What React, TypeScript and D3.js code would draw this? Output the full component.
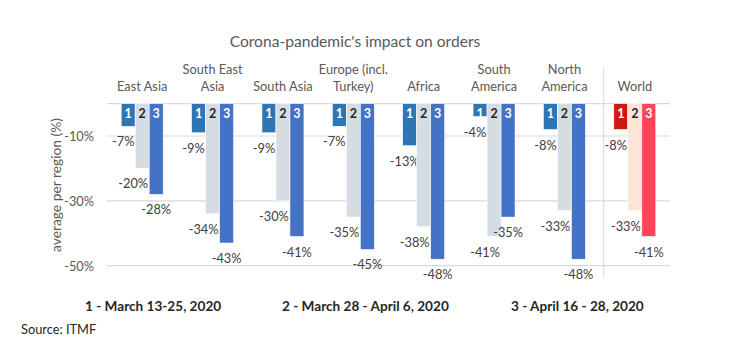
import React from "react";
import * as d3 from "d3";

const regions = ["East Asia", "South East Asia", "South Asia", "Europe (incl. Turkey)", "Africa", "South America", "North America", "World"];
const regionLines = [["East Asia"], ["South East", "Asia"], ["South Asia"], ["Europe (incl.", "Turkey)"], ["Africa"], ["South", "America"], ["North", "America"], ["World"]];
const survey1 = [-7, -9, -9, -7, -13, -4, -8, -8];
const survey2 = [-20, -34, -30, -35, -38, -41, -33, -33];
const survey3 = [-28, -43, -41, -45, -48, -35, -48, -41];
const surveyKeys = ["1", "2", "3"];
const yTicks = [-10, -30, -50];
const legendLabels = ["1 - March 13-25, 2020", "2 - March 28 - April 6, 2020", "3 - April 16 - 28, 2020"];

const W = 746, H = 346;
const FONT = "Lato, 'Open Sans', sans-serif";

export default function App() {
  const x = d3.scaleBand<string>().domain(regions).range([107, 670]).paddingInner(0).paddingOuter(0);
  const bw = 14;
  const sub = d3.scaleBand<string>().domain(surveyKeys).range([0, bw * 3]);
  const y = d3.scaleLinear().domain([0, -50]).range([103.6, 265.7]);
  const series = [survey1, survey2, survey3];
  const blue = ["#2E75B6", "#D6DCE4", "#4472C4"];
  const red = ["#CC1A0E", "#FBE5D6", "#FF4557"];
  const numColor = ["#ffffff", "#262626", "#ffffff"];
  const labelShift = [-5, -9, 0];
  const gridLines = [0, ...yTicks];
  const sepX = (x("World") as number) + 4;

  return (
    <div style={{ position: "absolute", left: 0, top: 0 }}>
      <svg width={W} height={H} style={{ display: "block", background: "#fff" }} fontFamily={FONT}>
        <text x={355} y={41} textAnchor="middle" dominantBaseline="central" fontSize={15.6} fill="#595959">
          Corona-pandemic's impact on orders
        </text>
        {gridLines.map((t) => (
          <line key={t} x1={107} x2={670} y1={y(t)} y2={y(t)} stroke="#D9D9D9" strokeWidth={1.2} />
        ))}
        {yTicks.map((t) => (
          <text key={t} x={94} y={y(t)} textAnchor="end" dominantBaseline="central" fontSize={12.8} fill="#595959">
            {`${t}%`}
          </text>
        ))}
        <text transform={`translate(55,185) rotate(-90)`} textAnchor="middle" dominantBaseline="central" fontSize={13.8} fill="#595959">
          average per region (%)
        </text>
        <line x1={sepX} x2={sepX} y1={67} y2={278} stroke="#D9D9D9" strokeWidth={1} />
        {regions.map((r, i) => {
          const gx = (x(r) as number) + (x.bandwidth() - bw * 3) / 2;
          const lines = regionLines[i];
          const cx = (x(r) as number) + x.bandwidth() / 2;
          const colors = r === "World" ? red : blue;
          return (
            <g key={r}>
              {lines.map((ln, j) => (
                <text key={j} x={cx} y={86 - (lines.length - 1 - j) * 16.7} textAnchor="middle" dominantBaseline="central" fontSize={12.8} fill="#595959">
                  {ln}
                </text>
              ))}
              {surveyKeys.map((k, s) => {
                const v = series[s][i];
                const bx = gx + (sub(k) as number);
                const y0 = y(0);
                const y1 = y(v);
                return (
                  <g key={k}>
                    <rect x={bx} y={y0} width={sub.bandwidth()} height={y1 - y0} fill={colors[s]} stroke="#ffffff" strokeWidth={0.6} />
                    <text x={bx + bw / 2} y={113.5} textAnchor="middle" dominantBaseline="central" fontSize={12.5} fontWeight="bold" fill={numColor[s]}>
                      {k}
                    </text>
                    <text x={bx + bw / 2 + labelShift[s]} y={y1 + 15} textAnchor="middle" dominantBaseline="central" fontSize={12.8} fill="#404040">
                      {`${v}%`}
                    </text>
                  </g>
                );
              })}
            </g>
          );
        })}
        {legendLabels.map((l, i) => (
          <text key={l} x={[85, 282, 511][i]} y={306} dominantBaseline="central" fontSize={13.6} fontWeight="bold" fill="#262626">
            {l}
          </text>
        ))}
        <text x={21} y={329} dominantBaseline="central" fontSize={12.8} fill="#262626">
          Source: ITMF
        </text>
      </svg>
    </div>
  );
}
